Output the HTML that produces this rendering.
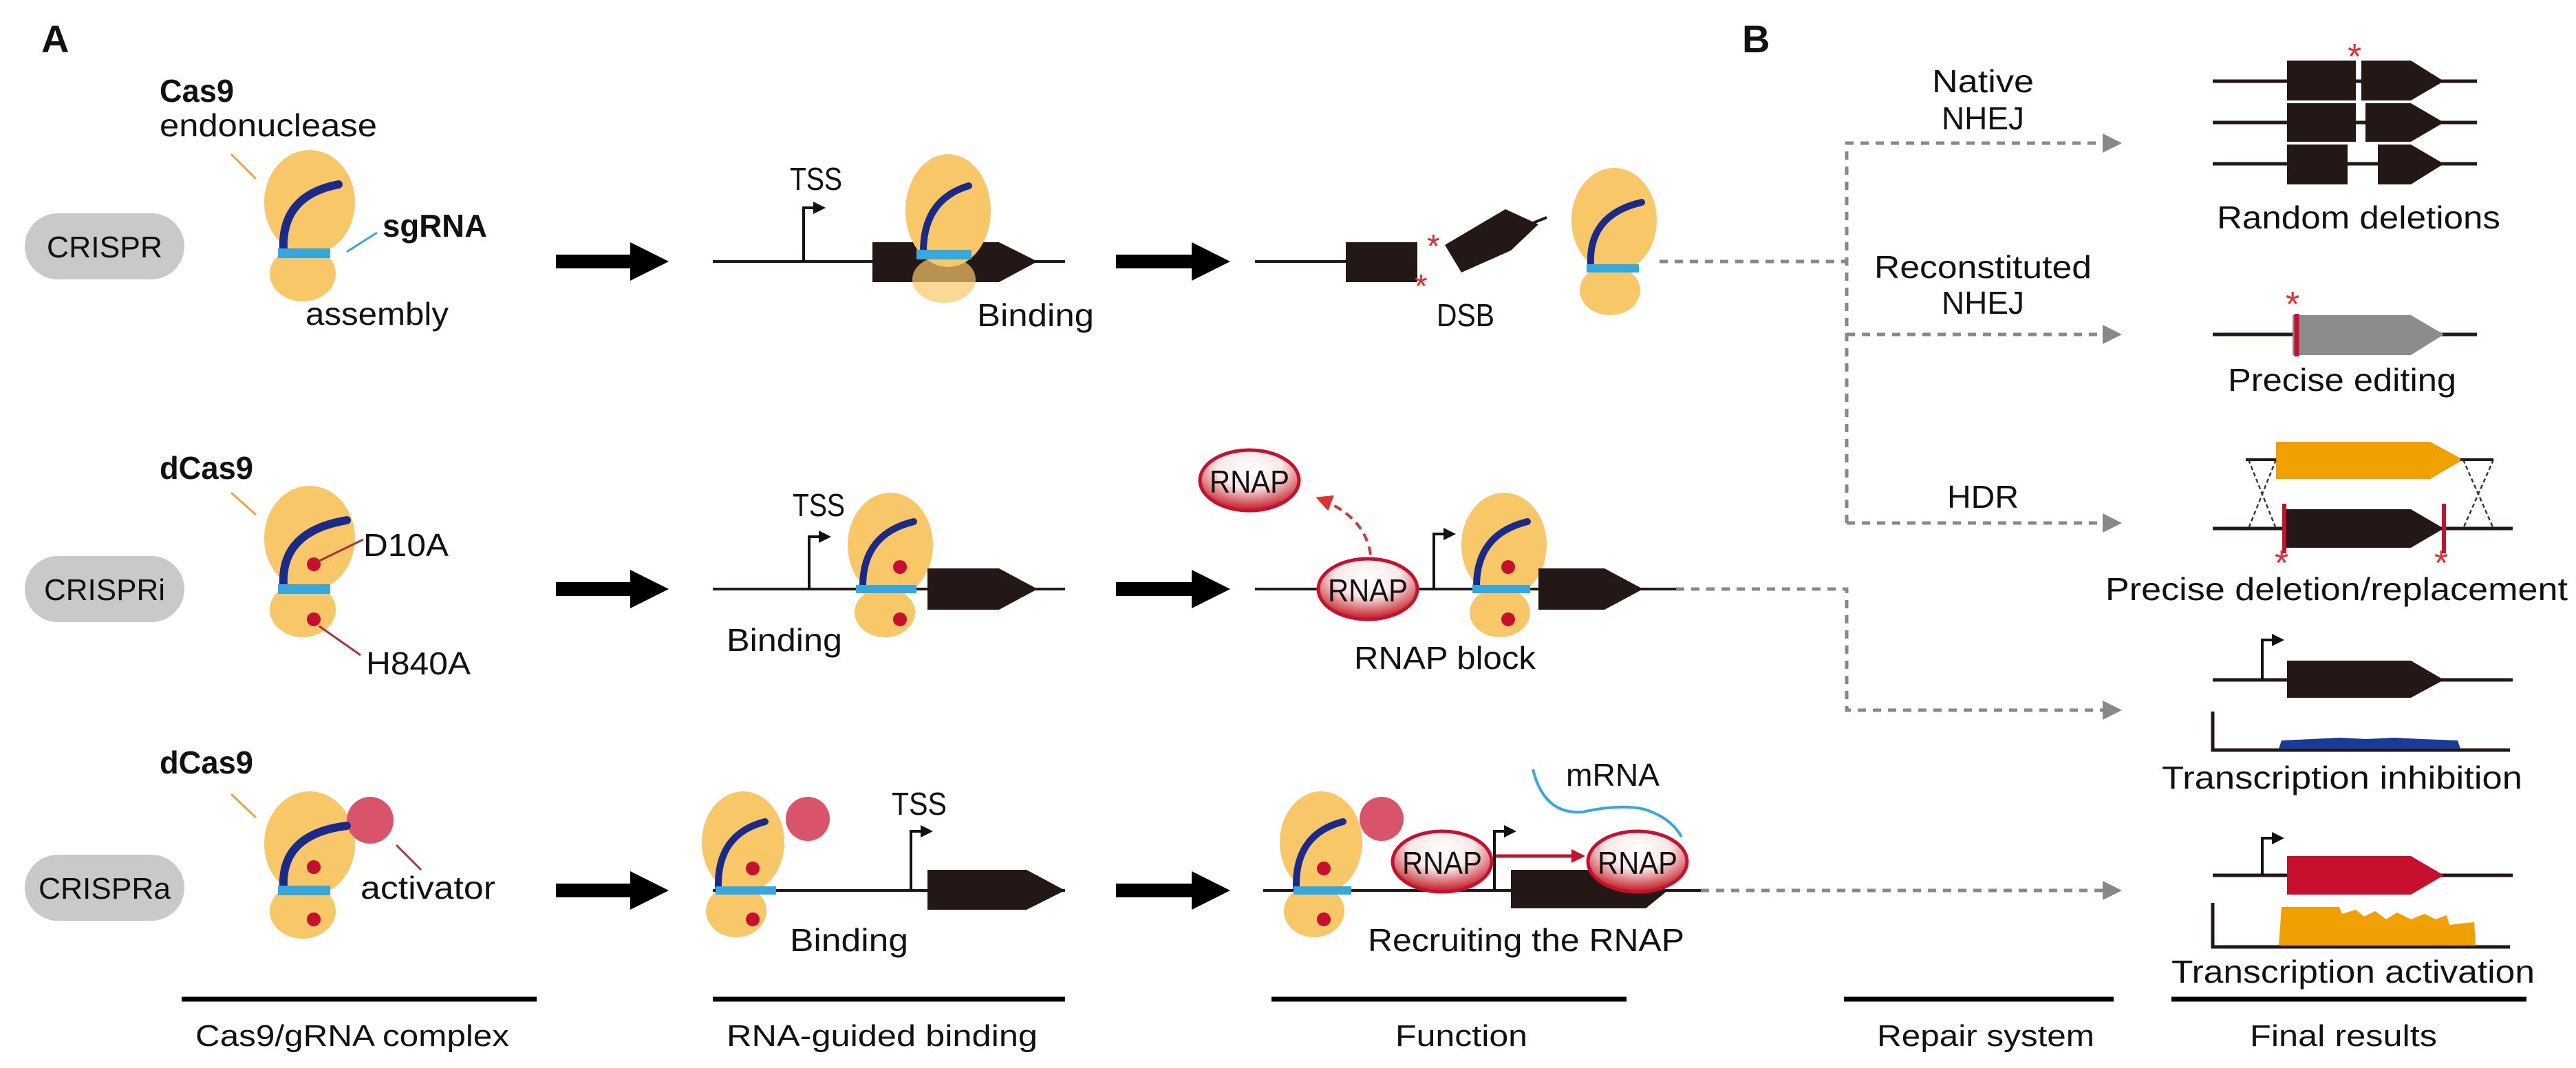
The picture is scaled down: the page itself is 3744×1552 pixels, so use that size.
<!DOCTYPE html>
<html><head><meta charset="utf-8"><style>html,body{margin:0;padding:0;background:#fff}svg{display:block}text{font-family:"Liberation Sans",sans-serif;fill:#111}</style></head>
<body>
<svg width="3744" height="1552" viewBox="0 0 1872 776" xmlns="http://www.w3.org/2000/svg">
<defs>
<radialGradient id="rg" cx="50%" cy="30%" r="65%"><stop offset="0" stop-color="#fff"/><stop offset="0.5" stop-color="#fce8e8"/><stop offset="1" stop-color="#c8323a"/></radialGradient>
<marker id="ga" markerWidth="14" markerHeight="14" refX="12" refY="7" orient="auto" markerUnits="userSpaceOnUse"><path d="M0,0 L14,7 L0,14 Z" fill="#888"/></marker>
<marker id="ra" markerWidth="12" markerHeight="12" refX="10" refY="6" orient="auto" markerUnits="userSpaceOnUse"><path d="M0,0 L12,6 L0,12 Z" fill="#e03030"/></marker>
<marker id="rd" markerWidth="10" markerHeight="10" refX="8" refY="5" orient="auto" markerUnits="userSpaceOnUse"><path d="M0,0 L10,5 L0,10 Z" fill="#c8102e"/></marker>
<marker id="ka" markerWidth="9" markerHeight="9" refX="7" refY="4.5" orient="auto" markerUnits="userSpaceOnUse"><path d="M0,0 L9,4.5 L0,9 Z" fill="#111"/></marker>
</defs>

<text x="30" y="38" font-size="28" font-weight="bold">A</text>
<text x="1266" y="38" font-size="28" font-weight="bold">B</text>

<!-- pills -->
<g font-size="22">
<rect x="18" y="155" width="116" height="48" rx="24" fill="#c9c9c9"/><text x="76" y="187" text-anchor="middle" textLength="84" lengthAdjust="spacingAndGlyphs">CRISPR</text>
<rect x="18" y="404" width="116" height="48" rx="24" fill="#c9c9c9"/><text x="76" y="436" text-anchor="middle" textLength="88" lengthAdjust="spacingAndGlyphs">CRISPRi</text>
<rect x="18" y="621" width="116" height="48" rx="24" fill="#c9c9c9"/><text x="76" y="653" text-anchor="middle" textLength="96" lengthAdjust="spacingAndGlyphs">CRISPRa</text>
</g>

<!-- big arrows -->
<g fill="#000">
<path d="M404,185 H458 V176 L486,190 L458,204 V195 H404 Z"/>
<path d="M811,185 H866 V176 L894,190 L866,204 V195 H811 Z"/>
<path d="M404,423 H458 V414 L486,428 L458,442 V433 H404 Z"/>
<path d="M811,423 H866 V414 L894,428 L866,442 V433 H811 Z"/>
<path d="M404,642 H458 V633 L486,647 L458,661 V652 H404 Z"/>
<path d="M811,642 H866 V633 L894,647 L866,661 V652 H811 Z"/>
</g>

<!-- Row 1 col1 -->
<g>
<line x1="168" y1="112" x2="186" y2="130" stroke="#e8a640" stroke-width="1.5"/>
<ellipse cx="225" cy="147" rx="33" ry="38" fill="#f8c768"/>
<ellipse cx="220" cy="199" rx="24" ry="20" fill="#f8c768"/>
<path d="M206,182 Q204,142 246,134" stroke="#1a2a8a" stroke-width="6" fill="none" stroke-linecap="round"/>
<line x1="202" y1="184" x2="240" y2="184" stroke="#35a8e0" stroke-width="7"/>
<line x1="274" y1="169" x2="252" y2="183" stroke="#35a8e0" stroke-width="1.5"/>
<text x="116" y="74" font-size="23" font-weight="bold" textLength="54" lengthAdjust="spacingAndGlyphs">Cas9</text>
<text x="116" y="99" font-size="23" textLength="158" lengthAdjust="spacingAndGlyphs">endonuclease</text>
<text x="278" y="172" font-size="23" font-weight="bold" textLength="76" lengthAdjust="spacingAndGlyphs">sgRNA</text>
<text x="222" y="236" font-size="23" textLength="104" lengthAdjust="spacingAndGlyphs">assembly</text>
</g>

<!-- Row1 col2 -->
<g>
<line x1="518" y1="190" x2="774" y2="190" stroke="#231815" stroke-width="2"/>
<path d="M584,190 V151 H598" stroke="#111" stroke-width="2" fill="none" marker-end="url(#ka)"/>
<text x="574" y="138" font-size="23" textLength="38" lengthAdjust="spacingAndGlyphs">TSS</text>
<path d="M634,176 H726 L754,190 L726,205 H634 Z" fill="#231815"/>
<ellipse cx="689" cy="153" rx="31" ry="41" fill="#f8c768"/>
<ellipse cx="686" cy="203" rx="23" ry="17" fill="#f8c768" opacity="0.7"/>
<path d="M671,183 Q671,145 704,135" stroke="#1a2a8a" stroke-width="5" fill="none" stroke-linecap="round"/>
<line x1="666" y1="185" x2="706" y2="185" stroke="#35a8e0" stroke-width="7"/>
<text x="710" y="237" font-size="23" textLength="85" lengthAdjust="spacingAndGlyphs">Binding</text>
</g>

<!-- Row1 col3 -->
<g>
<line x1="912" y1="190" x2="978" y2="190" stroke="#231815" stroke-width="2"/>
<rect x="978" y="176" width="52" height="29" fill="#231815"/>
<path d="M1050,178 L1062,198 L1098,182 L1118,163 L1094,152 Z" fill="#231815"/>
<line x1="1114" y1="162" x2="1124" y2="158" stroke="#231815" stroke-width="2"/>
<text x="1037" y="187" font-size="24" style="fill:#e03030">*</text>
<text x="1028" y="216" font-size="24" style="fill:#e03030">*</text>
<text x="1044" y="237" font-size="23" textLength="42" lengthAdjust="spacingAndGlyphs">DSB</text>
<ellipse cx="1173" cy="160" rx="31" ry="38" fill="#f8c768"/>
<ellipse cx="1170" cy="211" rx="22" ry="18" fill="#f8c768"/>
<path d="M1156,193 Q1154,156 1193,147" stroke="#1a2a8a" stroke-width="5" fill="none" stroke-linecap="round"/>
<line x1="1153" y1="195" x2="1191" y2="195" stroke="#35a8e0" stroke-width="6"/>
</g>

<!-- Row 2 col1 -->
<g>
<text x="116" y="348" font-size="23" font-weight="bold" textLength="68" lengthAdjust="spacingAndGlyphs">dCas9</text>
<line x1="168" y1="358" x2="186" y2="374" stroke="#e8a640" stroke-width="1.5"/>
<ellipse cx="225" cy="391" rx="33" ry="38" fill="#f8c768"/>
<ellipse cx="220" cy="443" rx="24" ry="20" fill="#f8c768"/>
<path d="M206,425 Q204,386 252,378" stroke="#1a2a8a" stroke-width="6" fill="none" stroke-linecap="round"/>
<line x1="202" y1="428" x2="240" y2="428" stroke="#35a8e0" stroke-width="7"/>
<circle cx="228" cy="410" r="5" fill="#c8102e"/>
<circle cx="228" cy="450" r="5" fill="#c8102e"/>
<line x1="231" y1="408" x2="264" y2="392" stroke="#b03040" stroke-width="1.5"/>
<line x1="232" y1="455" x2="262" y2="476" stroke="#b03040" stroke-width="1.5"/>
<text x="264" y="404" font-size="23" textLength="62" lengthAdjust="spacingAndGlyphs">D10A</text>
<text x="266" y="490" font-size="23" textLength="76" lengthAdjust="spacingAndGlyphs">H840A</text>
</g>

<!-- Row2 col2 -->
<g>
<line x1="518" y1="428" x2="774" y2="428" stroke="#231815" stroke-width="2"/>
<path d="M588,428 V390 H602" stroke="#111" stroke-width="2" fill="none" marker-end="url(#ka)"/>
<text x="576" y="375" font-size="23" textLength="38" lengthAdjust="spacingAndGlyphs">TSS</text>
<ellipse cx="647" cy="396" rx="31" ry="38" fill="#f8c768"/>
<ellipse cx="643" cy="445" rx="22" ry="18" fill="#f8c768"/>
<path d="M627,426 Q627,388 664,379" stroke="#1a2a8a" stroke-width="5" fill="none" stroke-linecap="round"/>
<line x1="622" y1="428" x2="666" y2="428" stroke="#35a8e0" stroke-width="6"/>
<circle cx="654" cy="412" r="5" fill="#c8102e"/><circle cx="654" cy="450" r="5" fill="#c8102e"/>
<path d="M674,413 H726 L754,428 L726,443 H674 Z" fill="#231815"/>
<text x="528" y="473" font-size="23" textLength="84" lengthAdjust="spacingAndGlyphs">Binding</text>
</g>

<!-- Row2 col3 -->
<g>
<line x1="912" y1="428" x2="1218" y2="428" stroke="#231815" stroke-width="2"/>
<path d="M1042,428 V388 H1056" stroke="#111" stroke-width="2" fill="none" marker-end="url(#ka)"/>
<ellipse cx="1093" cy="396" rx="31" ry="38" fill="#f8c768"/>
<ellipse cx="1090" cy="445" rx="22" ry="18" fill="#f8c768"/>
<path d="M1073,426 Q1073,388 1110,379" stroke="#1a2a8a" stroke-width="5" fill="none" stroke-linecap="round"/>
<line x1="1070" y1="428" x2="1112" y2="428" stroke="#35a8e0" stroke-width="6"/>
<circle cx="1096" cy="412" r="5" fill="#c8102e"/><circle cx="1096" cy="450" r="5" fill="#c8102e"/>
<path d="M1118,413 H1166 L1194,428 L1166,443 H1118 Z" fill="#231815"/>
<ellipse cx="994" cy="428" rx="36" ry="22" fill="url(#rg)" stroke="#c8102e" stroke-width="2.5"/>
<text x="994" y="437" font-size="23" text-anchor="middle" textLength="58" lengthAdjust="spacingAndGlyphs">RNAP</text>
<ellipse cx="908" cy="349" rx="36" ry="22" fill="url(#rg)" stroke="#c8102e" stroke-width="2.5"/>
<text x="908" y="358" font-size="23" text-anchor="middle" textLength="58" lengthAdjust="spacingAndGlyphs">RNAP</text>
<path d="M996,403 Q992,375 958,362" stroke="#e03030" stroke-width="2" fill="none" stroke-dasharray="6,4" marker-end="url(#ra)"/>
<text x="984" y="486" font-size="23" textLength="132" lengthAdjust="spacingAndGlyphs">RNAP block</text>
</g>

<!-- Row 3 col1 -->
<g>
<text x="116" y="562" font-size="23" font-weight="bold" textLength="68" lengthAdjust="spacingAndGlyphs">dCas9</text>
<line x1="168" y1="577" x2="186" y2="594" stroke="#e8a640" stroke-width="1.5"/>
<ellipse cx="225" cy="613" rx="33" ry="38" fill="#f8c768"/>
<ellipse cx="220" cy="662" rx="24" ry="20" fill="#f8c768"/>
<circle cx="269" cy="596" r="17" fill="#d9546a"/>
<path d="M206,645 Q204,606 252,600" stroke="#1a2a8a" stroke-width="6" fill="none" stroke-linecap="round"/>
<line x1="202" y1="647" x2="240" y2="647" stroke="#35a8e0" stroke-width="7"/>
<circle cx="228" cy="630" r="5" fill="#c8102e"/><circle cx="228" cy="668" r="5" fill="#c8102e"/>
<line x1="288" y1="614" x2="306" y2="632" stroke="#b03040" stroke-width="1.5"/>
<text x="262" y="653" font-size="23" textLength="98" lengthAdjust="spacingAndGlyphs">activator</text>
</g>

<!-- Row3 col2 -->
<g>
<line x1="518" y1="647" x2="774" y2="647" stroke="#231815" stroke-width="2"/>
<ellipse cx="540" cy="612" rx="30" ry="37" fill="#f8c768"/>
<ellipse cx="535" cy="662" rx="22" ry="19" fill="#f8c768"/>
<circle cx="587" cy="595" r="16" fill="#d9546a"/>
<path d="M522,645 Q521,606 556,597" stroke="#1a2a8a" stroke-width="5" fill="none" stroke-linecap="round"/>
<line x1="520" y1="647" x2="564" y2="647" stroke="#35a8e0" stroke-width="6"/>
<circle cx="547" cy="631" r="5" fill="#c8102e"/><circle cx="547" cy="668" r="5" fill="#c8102e"/>
<path d="M662,647 V604 H676" stroke="#111" stroke-width="2" fill="none" marker-end="url(#ka)"/>
<text x="648" y="592" font-size="23" textLength="40" lengthAdjust="spacingAndGlyphs">TSS</text>
<path d="M674,632 H746 L774,647 L746,661 H674 Z" fill="#231815"/>
<text x="574" y="691" font-size="23" textLength="86" lengthAdjust="spacingAndGlyphs">Binding</text>
</g>

<!-- Row3 col3 -->
<g>
<line x1="918" y1="647" x2="1236" y2="647" stroke="#231815" stroke-width="2"/>
<path d="M1098,632 H1184 L1212,647 L1196,660 H1098 Z" fill="#231815"/>
<ellipse cx="960" cy="612" rx="30" ry="37" fill="#f8c768"/>
<ellipse cx="955" cy="662" rx="22" ry="19" fill="#f8c768"/>
<circle cx="1004" cy="595" r="16" fill="#d9546a"/>
<path d="M942,645 Q941,606 976,597" stroke="#1a2a8a" stroke-width="5" fill="none" stroke-linecap="round"/>
<line x1="940" y1="647" x2="982" y2="647" stroke="#35a8e0" stroke-width="6"/>
<circle cx="962" cy="631" r="5" fill="#c8102e"/><circle cx="962" cy="668" r="5" fill="#c8102e"/>
<ellipse cx="1048" cy="626" rx="36" ry="22" fill="url(#rg)" stroke="#c8102e" stroke-width="2.5"/>
<text x="1048" y="635" font-size="23" text-anchor="middle" textLength="58" lengthAdjust="spacingAndGlyphs">RNAP</text>
<path d="M1086,647 V604 H1100" stroke="#111" stroke-width="2" fill="none" marker-end="url(#ka)"/>
<line x1="1087" y1="622" x2="1150" y2="622" stroke="#c8102e" stroke-width="2.5" marker-end="url(#rd)"/>
<ellipse cx="1190" cy="626" rx="36" ry="22" fill="url(#rg)" stroke="#c8102e" stroke-width="2.5"/>
<text x="1190" y="635" font-size="23" text-anchor="middle" textLength="58" lengthAdjust="spacingAndGlyphs">RNAP</text>
<path d="M1114,559 Q1122,592 1150,590 Q1178,584 1195,588 Q1214,594 1222,608" stroke="#35a8e0" stroke-width="2" fill="none"/>
<text x="1138" y="571" font-size="23" textLength="68" lengthAdjust="spacingAndGlyphs">mRNA</text>
<text x="1109" y="691" font-size="23" text-anchor="middle" textLength="230" lengthAdjust="spacingAndGlyphs">Recruiting the RNAP</text>
</g>

<!-- B connectors -->
<g stroke="#888" stroke-width="2.5" stroke-dasharray="6,5" fill="none">
<line x1="1206" y1="190" x2="1342" y2="190"/>
<polyline points="1342,380 1342,104 1540,104" marker-end="url(#ga)"/>
<line x1="1342" y1="243" x2="1540" y2="243" marker-end="url(#ga)"/>
<line x1="1342" y1="380" x2="1540" y2="380" marker-end="url(#ga)"/>
<polyline points="1218,428 1342,428 1342,516 1540,516" marker-end="url(#ga)"/>
<line x1="1236" y1="647" x2="1540" y2="647" marker-end="url(#ga)"/>
</g>
<g font-size="23" text-anchor="middle">
<text x="1441" y="67" textLength="74" lengthAdjust="spacingAndGlyphs">Native</text><text x="1441" y="94" textLength="60" lengthAdjust="spacingAndGlyphs">NHEJ</text>
<text x="1441" y="202" textLength="158" lengthAdjust="spacingAndGlyphs">Reconstituted</text><text x="1441" y="228" textLength="60" lengthAdjust="spacingAndGlyphs">NHEJ</text>
<text x="1441" y="369" textLength="52" lengthAdjust="spacingAndGlyphs">HDR</text>
</g>

<!-- Results -->
<g>
<line x1="1608" y1="59" x2="1800" y2="59" stroke="#231815" stroke-width="2.5"/>
<line x1="1608" y1="89" x2="1800" y2="89" stroke="#231815" stroke-width="2.5"/>
<line x1="1608" y1="119" x2="1800" y2="119" stroke="#231815" stroke-width="2.5"/>
<rect x="1662" y="44" width="50" height="29" fill="#231815"/><path d="M1716,44 H1752 L1776,59 L1752,73 H1716 Z" fill="#231815"/>
<rect x="1662" y="75" width="50" height="28" fill="#231815"/><path d="M1719,75 H1752 L1776,89 L1752,103 H1719 Z" fill="#231815"/>
<rect x="1662" y="105" width="44" height="29" fill="#231815"/><path d="M1728,105 H1752 L1776,119 L1752,134 H1728 Z" fill="#231815"/>
<text x="1706" y="50" font-size="26" style="fill:#e03030">*</text>
<text x="1714" y="166" font-size="23" text-anchor="middle" textLength="206" lengthAdjust="spacingAndGlyphs">Random deletions</text>

<line x1="1608" y1="243" x2="1800" y2="243" stroke="#231815" stroke-width="2.5"/>
<path d="M1666,229 H1752 L1776,243 L1752,258 H1666 Z" fill="#8c8c8c"/>
<line x1="1669" y1="228" x2="1669" y2="259" stroke="#c8102e" stroke-width="3.5"/>
<text x="1661" y="230" font-size="26" style="fill:#e03030">*</text>
<text x="1702" y="284" font-size="23" text-anchor="middle" textLength="166" lengthAdjust="spacingAndGlyphs">Precise editing</text>

<path d="M1654,321 H1766 L1790,334 L1766,348 H1654 Z" fill="#f0a000"/>
<line x1="1632" y1="334" x2="1654" y2="334" stroke="#231815" stroke-width="2"/>
<line x1="1788" y1="334" x2="1812" y2="334" stroke="#231815" stroke-width="2"/>
<g stroke="#333" stroke-width="1.2" stroke-dasharray="3,2" fill="none">
<path d="M1634,334 L1654,384 M1654,334 L1634,384"/>
<path d="M1790,334 L1812,384 M1812,334 L1790,384"/>
</g>
<line x1="1608" y1="384" x2="1826" y2="384" stroke="#231815" stroke-width="2.5"/>
<path d="M1660,370 H1752 L1776,384 L1752,398 H1660 Z" fill="#231815"/>
<line x1="1660" y1="366" x2="1660" y2="402" stroke="#c8102e" stroke-width="3"/>
<line x1="1776" y1="366" x2="1776" y2="402" stroke="#c8102e" stroke-width="3"/>
<text x="1653" y="418" font-size="26" style="fill:#e03030">*</text>
<text x="1769" y="418" font-size="26" style="fill:#e03030">*</text>
<text x="1698" y="436" font-size="23" text-anchor="middle" textLength="336" lengthAdjust="spacingAndGlyphs">Precise deletion/replacement</text>

<line x1="1608" y1="494" x2="1826" y2="494" stroke="#231815" stroke-width="2.5"/>
<path d="M1644,494 V465 H1658" stroke="#111" stroke-width="2" fill="none" marker-end="url(#ka)"/>
<path d="M1662,480 H1752 L1776,494 L1752,507 H1662 Z" fill="#231815"/>
<polyline points="1608,517 1608,545 1824,545" stroke="#231815" stroke-width="2.5" fill="none"/>
<path d="M1656,544 L1658,538 L1680,537 L1700,536 L1720,537 L1740,536 L1760,537 L1786,538 L1788,544 Z" fill="#1a3a9a"/>
<text x="1702" y="573" font-size="23" text-anchor="middle" textLength="262" lengthAdjust="spacingAndGlyphs">Transcription inhibition</text>

<line x1="1608" y1="636" x2="1826" y2="636" stroke="#231815" stroke-width="2.5"/>
<path d="M1644,636 V609 H1658" stroke="#111" stroke-width="2" fill="none" marker-end="url(#ka)"/>
<path d="M1662,622 H1752 L1776,636 L1752,650 H1662 Z" fill="#c8102e"/>
<polyline points="1608,656 1608,688 1824,688" stroke="#231815" stroke-width="2.5" fill="none"/>
<path d="M1656,687 L1658,659 L1700,659 L1702,664 L1712,661 L1718,666 L1726,662 L1734,668 L1742,663 L1752,668 L1762,664 L1770,668 L1778,665 L1780,672 L1798,670 L1799,687 Z" fill="#f0a000"/>
<text x="1710" y="714" font-size="23" text-anchor="middle" textLength="264" lengthAdjust="spacingAndGlyphs">Transcription activation</text>
</g>

<!-- bottom lines -->
<g stroke="#000" stroke-width="3.5">
<line x1="132" y1="726" x2="390" y2="726"/>
<line x1="518" y1="726" x2="774" y2="726"/>
<line x1="924" y1="726" x2="1182" y2="726"/>
<line x1="1340" y1="726" x2="1536" y2="726"/>
<line x1="1578" y1="726" x2="1836" y2="726"/>
</g>
<g font-size="22" text-anchor="middle">
<text x="256" y="760" textLength="228" lengthAdjust="spacingAndGlyphs">Cas9/gRNA complex</text>
<text x="641" y="760" textLength="226" lengthAdjust="spacingAndGlyphs">RNA-guided binding</text>
<text x="1062" y="760" textLength="96" lengthAdjust="spacingAndGlyphs">Function</text>
<text x="1443" y="760" textLength="158" lengthAdjust="spacingAndGlyphs">Repair system</text>
<text x="1703" y="760" textLength="136" lengthAdjust="spacingAndGlyphs">Final results</text>
</g>
</svg>
</body></html>
